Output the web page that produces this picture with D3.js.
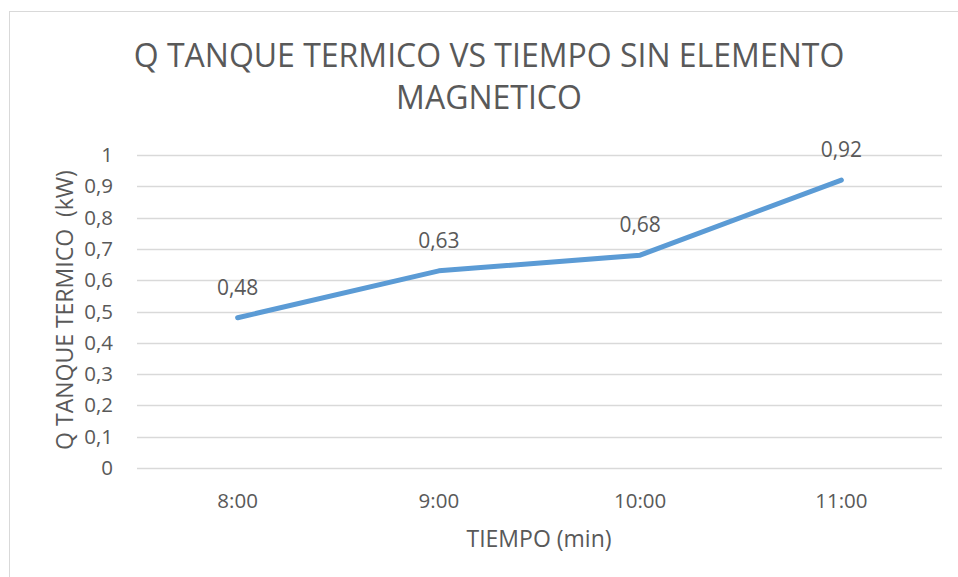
<!DOCTYPE html>
<html>
<head>
<meta charset="utf-8">
<script src="https://cdn.jsdelivr.net/npm/d3@7"></script>
<style>
  html, body { margin: 0; padding: 0; background: #fff; }
  svg { display: block; }
  text { font-family: "Open Sans", Lato, sans-serif; fill: #595959; white-space: pre; }
</style>
</head>
<body>
<svg id="chart" width="958" height="577"></svg>
<script>
// Hourly readings of thermal tank heat
const categories = ["8:00", "9:00", "10:00", "11:00"];
const qValues = [0.48, 0.63, 0.68, 0.92];
const qLabels = ["0,48", "0,63", "0,68", "0,92"];
const yTicks = [0, 0.1, 0.2, 0.3, 0.4, 0.5, 0.6, 0.7, 0.8, 0.9, 1];
const titleLines = ["Q TANQUE TERMICO VS TIEMPO SIN ELEMENTO", "MAGNETICO"];
const yTitle = "Q TANQUE TERMICO  (kW)";
const xTitle = "TIEMPO (min)";

const svg = d3.select("#chart");
const W = 958, H = 577;
const plot = { left: 137, right: 942, top: 155, bottom: 468 };
const font = "'Open Sans', Lato, sans-serif";
const tickSize = 20.5;

// chart frame
svg.append("rect")
  .attr("x", 9.5).attr("y", 11.5)
  .attr("width", W + 20).attr("height", H + 20)
  .attr("fill", "#fff").attr("stroke", "#d9d9d9").attr("stroke-width", 1);

const x = d3.scaleBand().domain(categories).range([plot.left, plot.right]);
const y = d3.scaleLinear().domain([0, 1]).range([plot.bottom, plot.top]);

// horizontal gridlines
svg.append("g")
  .selectAll("line")
  .data(yTicks)
  .join("line")
  .attr("x1", plot.left).attr("x2", plot.right)
  .attr("y1", d => Math.round(y(d)) + 0.5).attr("y2", d => Math.round(y(d)) + 0.5)
  .attr("stroke", "#d9d9d9").attr("stroke-width", 1.3);

// y axis labels
const yAxis = d3.axisLeft(y).tickValues(yTicks)
  .tickFormat(d => d3.format(".1~f")(d).replace(".", ","))
  .tickSize(0).tickPadding(0);
const gy = svg.append("g").attr("transform", `translate(${plot.left - 24},0)`).call(yAxis);
gy.select(".domain").remove();
gy.selectAll("text").attr("font-size", tickSize).attr("fill", "#595959")
  .style("font-family", font);

// x axis labels
const xAxis = d3.axisBottom(x).tickSize(0).tickPadding(0);
const gx = svg.append("g").attr("transform", `translate(0,${508 - 0.71 * tickSize})`).call(xAxis);
gx.select(".domain").remove();
gx.selectAll("text").attr("font-size", tickSize).attr("fill", "#595959")
  .style("font-family", font);

// series line
const line = d3.line()
  .x((d, i) => x(categories[i]) + x.bandwidth() / 2)
  .y(d => y(d));
svg.append("path")
  .datum(qValues)
  .attr("d", line)
  .attr("fill", "none")
  .attr("stroke", "#5b9bd5")
  .attr("stroke-width", 5)
  .attr("stroke-linejoin", "round")
  .attr("stroke-linecap", "round");

// value labels
svg.append("g")
  .selectAll("text")
  .data(qValues)
  .join("text")
  .attr("x", (d, i) => x(categories[i]) + x.bandwidth() / 2)
  .attr("y", d => y(d) - 23)
  .attr("text-anchor", "middle")
  .attr("font-size", 21)
  .text((d, i) => qLabels[i]);

// title
svg.append("text")
  .attr("x", 489).attr("y", 67)
  .attr("text-anchor", "middle")
  .attr("font-size", 32)
  .selectAll("tspan")
  .data(titleLines)
  .join("tspan")
  .attr("x", 489)
  .attr("dy", (d, i) => i === 0 ? 0 : 42)
  .text(d => d);

// axis titles
svg.append("text")
  .attr("transform", `translate(73,310) rotate(-90)`)
  .attr("text-anchor", "middle")
  .attr("font-size", 23)
  .text(yTitle);

svg.append("text")
  .attr("x", 539).attr("y", 547)
  .attr("text-anchor", "middle")
  .attr("font-size", 23)
  .text(xTitle);
</script>
</body>
</html>
